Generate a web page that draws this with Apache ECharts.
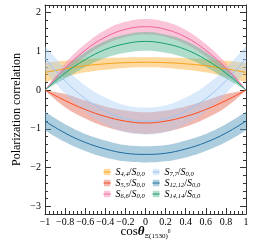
<!DOCTYPE html>
<html><head><meta charset="utf-8">
<script src="https://cdn.jsdelivr.net/npm/echarts@6/dist/echarts.min.js"></script>
<style>html,body{margin:0;padding:0;background:#fff}#c{width:254px;height:244px}</style>
</head><body><div id="c"></div>
<script>
// x samples (cos theta)
const cosTheta = [-1, -0.8, -0.6, -0.4, -0.2, 0, 0.2, 0.4, 0.6, 0.8, 1];
// S4,4/S0,0
const s44Mid = [0.46, 0.55, 0.63, 0.68, 0.71, 0.72, 0.71, 0.68, 0.63, 0.55, 0.46];
const s44Lo  = [0.21, 0.34, 0.46, 0.53, 0.575, 0.59, 0.575, 0.53, 0.46, 0.34, 0.21];
const s44Hi  = [0.71, 0.76, 0.80, 0.83, 0.845, 0.85, 0.845, 0.83, 0.80, 0.76, 0.71];
// S5,5/S0,0
const s55Mid = [0, -0.27, -0.50, -0.68, -0.80, -0.85, -0.80, -0.68, -0.50, -0.27, 0];
const s55Lo  = [0, -0.44, -0.73, -0.94, -1.075, -1.13, -1.075, -0.94, -0.73, -0.44, 0];
const s55Hi  = [0, -0.10, -0.27, -0.42, -0.525, -0.57, -0.525, -0.42, -0.27, -0.10, 0];
// S6,6/S0,0
const s66Mid = [0, 0.57, 1.03, 1.37, 1.57, 1.64, 1.57, 1.37, 1.03, 0.57, 0];
const s66Lo  = [0, 0.45, 0.87, 1.185, 1.375, 1.44, 1.375, 1.185, 0.87, 0.45, 0];
const s66Hi  = [0, 0.69, 1.19, 1.555, 1.765, 1.84, 1.765, 1.555, 1.19, 0.69, 0];
// S7,7/S0,0
const s77Mid = [0.82, 0.24, -0.22, -0.54, -0.74, -0.80, -0.74, -0.54, -0.22, 0.24, 0.82];
const s77Lo  = [0.50, -0.09, -0.56, -0.89, -1.09, -1.15, -1.09, -0.89, -0.56, -0.09, 0.50];
const s77Hi  = [1.14, 0.57, 0.12, -0.19, -0.39, -0.45, -0.39, -0.19, 0.12, 0.57, 1.14];
// S12,12/S0,0
const s1212Mid = [-0.80, -1.11, -1.35, -1.52, -1.63, -1.66, -1.63, -1.52, -1.35, -1.11, -0.80];
const s1212Lo  = [-1.04, -1.34, -1.57, -1.74, -1.84, -1.87, -1.84, -1.74, -1.57, -1.34, -1.04];
const s1212Hi  = [-0.56, -0.88, -1.13, -1.30, -1.42, -1.45, -1.42, -1.30, -1.13, -0.88, -0.56];
// S14,14/S0,0
const s1414Mid = [0, 0.44, 0.79, 1.05, 1.20, 1.26, 1.20, 1.05, 0.79, 0.44, 0];
const s1414Lo  = [0, 0.30, 0.60, 0.83, 0.965, 1.02, 0.965, 0.83, 0.60, 0.30, 0];
const s1414Hi  = [0, 0.58, 0.98, 1.27, 1.435, 1.50, 1.435, 1.27, 0.98, 0.58, 0];

const seriesNames = ['S4,4/S0,0', 'S5,5/S0,0', 'S6,6/S0,0', 'S7,7/S0,0', 'S12,12/S0,0', 'S14,14/S0,0'];
const numSub = ['4,4', '5,5', '6,6', '7,7', '12,12', '14,14'];
const denSub = '0,0';
const yTicks = [-3, -2, -1, 0, 1, 2];

const mids = [s44Mid, s55Mid, s66Mid, s77Mid, s1212Mid, s1414Mid];
const los = [s44Lo, s55Lo, s66Lo, s77Lo, s1212Lo, s1414Lo];
const his = [s44Hi, s55Hi, s66Hi, s77Hi, s1212Hi, s1414Hi];
const lineColors = ['#f7a21b', '#ff4a1c', '#f0609a', '#9ec5f0', '#1c6aa0', '#1a9e6c'];
const bandColors = ['rgba(252,185,80,0.55)', 'rgba(228,110,90,0.5)', 'rgba(245,150,185,0.55)',
                    'rgba(170,205,245,0.42)', 'rgba(90,155,190,0.5)', 'rgba(80,180,140,0.45)'];

const FONT = 'Liberation Serif';
const SM = 0.4;
const series = [];
// bands (stacked on a hidden category axis whose points coincide with cosTheta)
for (let k = 0; k < 6; k++) {
  const st = 'band' + k;
  series.push({
    type: 'line', xAxisIndex: 0, yAxisIndex: 0, stack: st, stackStrategy: 'all', smooth: SM, symbol: 'none', silent: true,
    data: los[k].slice(),
    lineStyle: { width: 0, opacity: 0 }, z: 1
  });
  series.push({
    type: 'line', xAxisIndex: 0, yAxisIndex: 0, stack: st, stackStrategy: 'all', smooth: SM, symbol: 'none', silent: true,
    data: his[k].map((h, i) => h - los[k][i]),
    lineStyle: { width: 0, opacity: 0 }, areaStyle: { color: bandColors[k], opacity: 1 }, z: 1
  });
}
// central lines
for (let k = 0; k < 6; k++) {
  series.push({
    type: 'line', name: seriesNames[k], xAxisIndex: 0, yAxisIndex: 0, smooth: SM, symbol: 'rect', showSymbol: false,
    data: mids[k].slice(),
    lineStyle: { color: lineColors[k], width: 1 }, itemStyle: { color: lineColors[k] }, z: 3
  });
}

const legendRich = {
  i: { fontFamily: FONT, fontStyle: 'italic', fontSize: 10, lineHeight: 12, verticalAlign: 'middle', color: '#000' },
  n: { fontFamily: FONT, fontSize: 10, lineHeight: 12, verticalAlign: 'middle', color: '#000' },
  s: { fontFamily: FONT, fontStyle: 'italic', fontSize: 6.5, lineHeight: 7, verticalAlign: 'bottom', color: '#000' }
};
function legendFmt(name) {
  const k = seriesNames.indexOf(name);
  return '{i|S}{s|' + numSub[k] + '}{n|/}{i|S}{s|' + denSub + '}';
}
function mkLegend(idx, left) {
  return {
    orient: 'vertical', left: left, top: 167, itemWidth: 7, itemHeight: 8, itemGap: 0,
    padding: 0, selectedMode: false,
    data: idx.map(k => ({ name: seriesNames[k], itemStyle: { color: bandColors[k] }, lineStyle: { color: lineColors[k], width: 1.2 } })),
    formatter: legendFmt,
    textStyle: { rich: legendRich }
  };
}

const axisLine = { show: true, onZero: false, lineStyle: { color: '#333', width: 1 } };
const fmtTick = v => {
  if (Math.abs(v) < 1e-9) return '0';
  const s = String(Math.round(v * 10) / 10);
  return s.replace('-', '\u2212');
};
const labelStyle = { fontFamily: FONT, fontSize: 10, color: '#000' };

const option = {
  animation: false,
  grid: { left: 45, right: 8, top: 5, bottom: 30, containLabel: false, outerBoundsMode: 'none' },
  xAxis: [
    { // hidden category axis carrying the data
      type: 'category', data: cosTheta.map(String), boundaryGap: false, position: 'bottom',
      axisLine: { show: false, onZero: false }, axisTick: { show: false }, axisLabel: { show: false }, splitLine: { show: false }
    },
    {
      type: 'value', min: -1, max: 1, interval: 0.2, position: 'bottom',
      axisLine, axisTick: { inside: true, length: 6, lineStyle: { color: '#333' } },
      minorTick: { show: true, splitNumber: 5, length: 3, lineStyle: { color: '#333' } },
      splitLine: { show: false },
      axisLabel: Object.assign({ margin: 3, formatter: fmtTick }, labelStyle),
      name: '{a|cos}{t|\u03b8}{s|\u039e(1530)}{p|0}', nameLocation: 'middle', nameGap: 10, nameMoveOverlap: false,
      nameTextStyle: {
        rich: {
          a: { fontFamily: FONT, fontSize: 13, lineHeight: 16, verticalAlign: 'middle', color: '#000' },
          t: { fontFamily: FONT, fontStyle: 'italic', fontWeight: 'bold', fontSize: 13, lineHeight: 16, verticalAlign: 'middle', color: '#000' },
          s: { fontFamily: FONT, fontSize: 7, lineHeight: 8, verticalAlign: 'bottom', color: '#000' },
          p: { fontFamily: FONT, fontSize: 5.5, lineHeight: 14, verticalAlign: 'middle', color: '#000' }
        }
      }
    },
    {
      type: 'value', min: -1, max: 1, interval: 0.2, position: 'top',
      axisLine, axisTick: { inside: true, length: 6, lineStyle: { color: '#333' } },
      minorTick: { show: true, splitNumber: 5, length: 3, lineStyle: { color: '#333' } },
      splitLine: { show: false }, axisLabel: { show: false }
    }
  ],
  yAxis: [
    { // minor ticks left
      type: 'value', min: -3.2, max: 2.2, interval: 0.2, position: 'left',
      axisLine, axisTick: { inside: true, length: 3, lineStyle: { color: '#333' } },
      splitLine: { show: false }, axisLabel: { show: false }
    },
    { // major ticks left with labels
      type: 'value', min: -3.2, max: 2.2, position: 'left',
      axisLine: { show: false, onZero: false },
      axisTick: { inside: true, length: 6, customValues: yTicks, lineStyle: { color: '#333' } },
      splitLine: { show: false },
      axisLabel: Object.assign({ margin: 4, customValues: yTicks, formatter: fmtTick }, labelStyle),
      name: 'Polarization correlation', nameLocation: 'middle', nameGap: 22, nameMoveOverlap: false,
      nameTextStyle: { fontFamily: FONT, fontSize: 12, color: '#000' }
    },
    { // minor ticks right
      type: 'value', min: -3.2, max: 2.2, interval: 0.2, position: 'right',
      axisLine, axisTick: { inside: true, length: 3, lineStyle: { color: '#333' } },
      splitLine: { show: false }, axisLabel: { show: false }
    },
    { // major ticks right
      type: 'value', min: -3.2, max: 2.2, position: 'right',
      axisLine: { show: false, onZero: false },
      axisTick: { inside: true, length: 6, customValues: yTicks, lineStyle: { color: '#333' } },
      splitLine: { show: false },
      axisLabel: { show: false, customValues: yTicks }
    }
  ],
  legend: [mkLegend([0, 1, 2], 103), mkLegend([3, 4, 5], 152)],
  series: series
};
const chart = echarts.init(document.getElementById('c'), null, { renderer: 'canvas' });
chart.setOption(option);
</script></body></html>
